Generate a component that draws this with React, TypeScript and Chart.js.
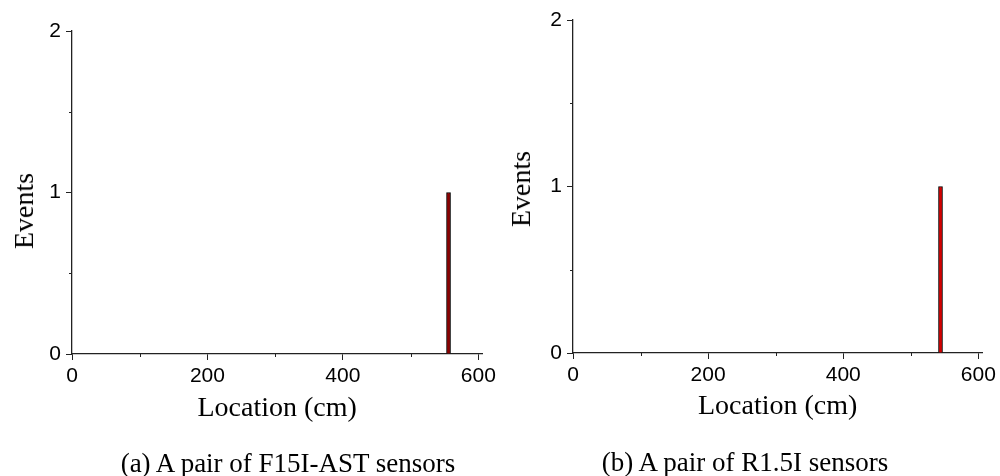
import React, { useEffect, useRef } from 'react';
import { Chart, registerables } from 'chart.js';

Chart.register(...registerables);

// ---- data ----
const xTickValues = [0, 200, 400, 600];
const xMinorValues = [100, 300, 500];
const yTickValues = [0, 1, 2];
const yMinorValues = [0.5, 1.5];

const locationsA = [556];
const eventsA = [1];
const locationsB = [544];
const eventsB = [1];

const xMax = 606;
const yMax = 2;

const captionA = '(a) A pair of F15I-AST sensors';
const captionB = '(b) A pair of R1.5I sensors';
const xTitle = 'Location (cm)';
const yTitle = 'Events';

const SANS = '"Liberation Sans", Arial, sans-serif';
const SERIF = '"Liberation Serif", "Times New Roman", serif';
const AXIS = '#222';

const minorTickPlugin = {
  id: 'minorTicks',
  afterDraw(chart: any) {
    const ctx = chart.ctx;
    const xs = chart.scales.x;
    const ys = chart.scales.y;
    ctx.save();
    ctx.strokeStyle = AXIS;
    ctx.lineWidth = 1;
    ctx.beginPath();
    xMinorValues.forEach((v) => {
      const px = Math.round(xs.getPixelForValue(v)) + 0.5;
      ctx.moveTo(px, xs.top);
      ctx.lineTo(px, xs.top + 3);
    });
    yMinorValues.forEach((v) => {
      const py = Math.round(ys.getPixelForValue(v)) + 0.5;
      ctx.moveTo(ys.right, py);
      ctx.lineTo(ys.right - 3, py);
    });
    ctx.stroke();
    ctx.restore();
  },
};

type PanelProps = {
  locations: number[];
  events: number[];
  fill: string;
  left: number;
  yWidth: number;
  top: number;
  xHeight: number;
  bottomPad: number;
  rightPad: number;
};

function Panel(p: PanelProps) {
  const ref = useRef<HTMLCanvasElement | null>(null);
  useEffect(() => {
    if (!ref.current) return;
    const chart = new Chart(ref.current, {
      type: 'bar',
      data: {
        datasets: [
          {
            data: p.locations.map((x, i) => ({ x, y: p.events[i] })),
            backgroundColor: p.fill,
            borderColor: '#000',
            borderWidth: 1,
            barThickness: 4,
          } as any,
        ],
      },
      options: {
        animation: false,
        responsive: false,
        maintainAspectRatio: false,
        layout: { padding: { left: 0, top: p.top, right: p.rightPad, bottom: p.bottomPad } },
        plugins: { legend: { display: false }, tooltip: { enabled: false }, title: { display: false } },
        scales: {
          x: {
            type: 'linear',
            min: 0,
            max: xMax,
            offset: false,
            grid: { display: true, drawOnChartArea: false, drawTicks: true, tickLength: 6, color: AXIS, offset: false },
            border: { display: true, color: AXIS, width: 1.3 },
            ticks: { font: { family: SANS, size: 21 }, color: '#000', padding: 4, maxRotation: 0, autoSkip: false },
            afterBuildTicks: (s: any) => {
              s.ticks = xTickValues.map((v) => ({ value: v }));
            },
            afterFit: (s: any) => {
              s.height = p.xHeight;
            },
            title: {
              display: true,
              text: xTitle,
              font: { family: SERIF, size: 28 },
              color: '#000',
              padding: { top: 0, bottom: 0 },
            },
          },
          y: {
            type: 'linear',
            min: 0,
            max: yMax,
            grid: { display: true, drawOnChartArea: false, drawTicks: true, tickLength: 6, color: AXIS },
            border: { display: true, color: AXIS, width: 1.3 },
            ticks: { font: { family: SANS, size: 21 }, color: '#000', padding: 5 },
            afterBuildTicks: (s: any) => {
              s.ticks = yTickValues.map((v) => ({ value: v }));
            },
            afterFit: (s: any) => {
              s.width = p.yWidth;
            },
          },
        },
      } as any,
      plugins: [minorTickPlugin],
    });
    return () => chart.destroy();
  }, []);
  return (
    <canvas
      ref={ref}
      width={500}
      height={476}
      style={{ position: 'absolute', left: p.left, top: 0, width: 500, height: 476 }}
    />
  );
}

const textStyle = (cx: number, cy: number, size: number, rotate: boolean): React.CSSProperties => ({
  position: 'absolute',
  left: cx,
  top: cy,
  transform: `translate(-50%, -50%)${rotate ? ' rotate(-90deg)' : ''}`,
  fontFamily: SERIF,
  fontSize: size,
  lineHeight: 1,
  whiteSpace: 'nowrap',
  color: '#000',
});

export default function App() {
  return (
    <div style={{ position: 'absolute', left: 0, top: 0, width: 1000, height: 476, background: '#fff', overflow: 'hidden' }}>
      <Panel locations={locationsA} events={eventsA} fill="#8b0000" left={0} yWidth={72} top={31} xHeight={71} bottomPad={476 - 354 - 71} rightPad={16} />
      <Panel locations={locationsB} events={eventsB} fill="#d40000" left={500} yWidth={73} top={20} xHeight={70} bottomPad={476 - 353 - 70} rightPad={15} />
      <div style={textStyle(24, 211, 28, true)}>{yTitle}</div>
      <div style={textStyle(521, 189, 28, true)}>{yTitle}</div>
      <div style={textStyle(288, 463, 27, false)}>{captionA}</div>
      <div style={textStyle(745, 462, 27, false)}>{captionB}</div>
    </div>
  );
}
